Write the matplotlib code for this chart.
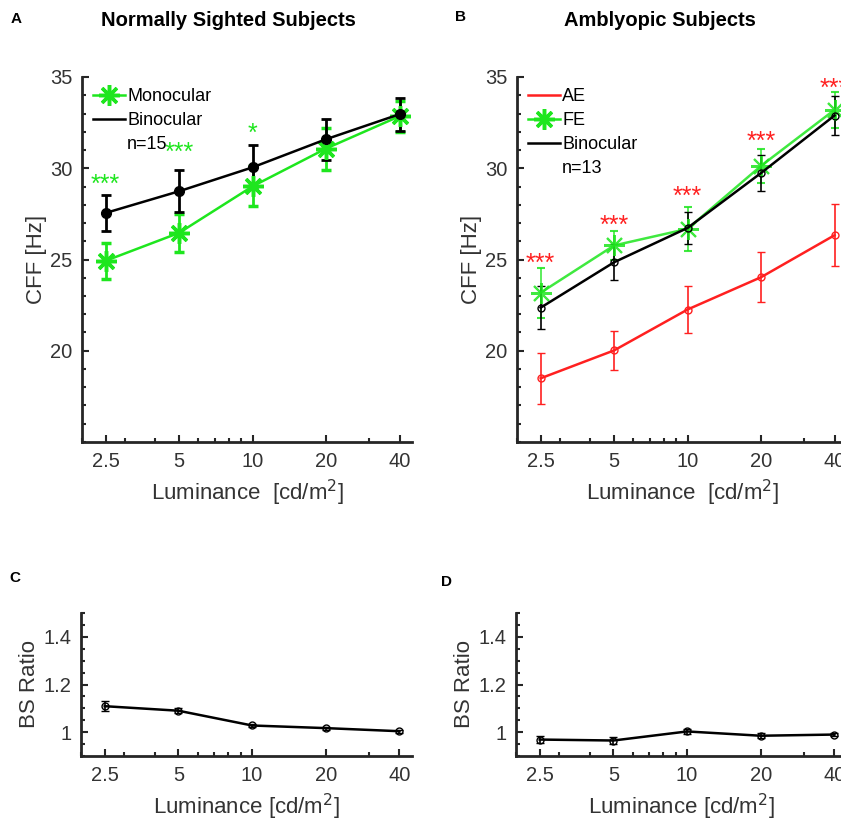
import matplotlib
matplotlib.use("Agg")
import matplotlib.pyplot as plt
from matplotlib.lines import Line2D
from matplotlib.ticker import LogLocator, MultipleLocator, FixedLocator, NullFormatter

plt.rcParams["font.family"] = ["Liberation Sans", "DejaVu Sans"]

# luminance levels [cd/m2]
luminance = [2.5, 5, 10, 20, 40]
lum_labels = ["2.5", "5", "10", "20", "40"]

# Panel A - normally sighted subjects (n=15)
a_bino = [27.55, 28.74, 30.05, 31.59, 32.96]
a_bino_err = [1.0, 1.15, 1.2, 1.13, 0.9]
a_mono = [24.93, 26.46, 29.01, 31.08, 32.85]
a_mono_err = [1.0, 1.06, 1.1, 1.15, 0.85]
a_sig = ["***", "***", "*", "", ""]
a_sig_y = [29.1, 30.85, 31.9, 0, 0]

# Panel B - amblyopic subjects (n=13)
b_ae = [18.49, 20.02, 22.26, 24.03, 26.33]
b_ae_err = [1.4, 1.07, 1.27, 1.38, 1.7]
b_fe = [23.18, 25.77, 26.68, 30.13, 33.2]
b_fe_err = [1.37, 0.8, 1.2, 0.95, 1.0]
b_bino = [22.36, 24.85, 26.73, 29.74, 32.89]
b_bino_err = [1.17, 1.0, 0.86, 0.97, 1.05]
b_sig = ["***", "***", "***", "***", "***"]
b_sig_y = [24.75, 26.85, 28.45, 31.45, 34.35]

# Panels C/D - binocular summation ratio
c_ratio = [1.109, 1.09, 1.028, 1.017, 1.004]
c_ratio_err = [0.02, 0.01, 0.006, 0.006, 0.006]
d_ratio = [0.969, 0.965, 1.003, 0.985, 0.99]
d_ratio_err = [0.013, 0.013, 0.012, 0.01, 0.008]

GREEN = "#1ee61e"
RED = "#ff2020"
AXC = "#262626"
STAR = (8, 2, 0)

W, H = 841, 823
fig = plt.figure(figsize=(W / 100, H / 100), dpi=100)


def px_axes(left, top, right, bottom):
    return fig.add_axes([left / W, 1 - bottom / H, (right - left) / W, (bottom - top) / H])


def style_axes(ax, ylim, ymajor, yminor, xlabel, ylabel):
    ax.set_xscale("log")
    ax.set_xlim(2, 45)
    ax.xaxis.set_major_locator(FixedLocator(luminance))
    ax.set_xticklabels(lum_labels)
    ax.xaxis.set_minor_locator(LogLocator(base=10, subs=range(2, 10)))
    ax.xaxis.set_minor_formatter(NullFormatter())
    ax.set_ylim(*ylim)
    ax.yaxis.set_major_locator(FixedLocator(ymajor))
    ax.set_yticklabels(["%g" % v for v in ymajor])
    ax.yaxis.set_minor_locator(MultipleLocator(yminor))
    for s in ["top", "right"]:
        ax.spines[s].set_visible(False)
    for s in ["left", "bottom"]:
        ax.spines[s].set_linewidth(2.0)
        ax.spines[s].set_color(AXC)
    ax.tick_params(which="both", direction="in", colors=AXC, width=1.5, labelsize=14.5,
                   labelcolor="#333333")
    ax.tick_params(which="major", length=5, pad=7)
    ax.tick_params(which="minor", length=3)
    ax.set_xlabel(xlabel, fontsize=16, color="#333333", labelpad=5)
    ax.set_ylabel(ylabel, fontsize=16, color="#333333", labelpad=2)


xlab_wide = "Luminance  [cd/m$^2$]"
xlab = "Luminance [cd/m$^2$]"

# ---- Panel A
axA = px_axes(82, 77, 412, 442)
axA.errorbar(luminance, a_mono, yerr=a_mono_err, color=GREEN, lw=1.8, elinewidth=2,
             capsize=3.5, capthick=2, marker=STAR, ms=15, mew=2.5)
axA.errorbar(luminance, a_bino, yerr=a_bino_err, color="black", lw=1.8, elinewidth=2,
             capsize=3.5, capthick=2, marker="o", ms=7)
for x, s, y in zip(luminance, a_sig, a_sig_y):
    if s:
        axA.text(x, y, s, color=GREEN, fontsize=18, ha="center", va="center")
style_axes(axA, (15, 35), [20, 25, 30, 35], 1, xlab_wide, "CFF [Hz]")
handlesA = [
    Line2D([], [], color=GREEN, lw=1.8, marker=STAR, ms=15, mew=2.5),
    Line2D([], [], color="black", lw=1.8),
    Line2D([], [], color="none"),
]
axA.legend(handlesA, ["Monocular", "Binocular", "n=15"], loc="upper left", frameon=False,
           fontsize=13, handlelength=1.8, handletextpad=0.1, borderaxespad=0.2,
           labelspacing=0.4, bbox_to_anchor=(0.0, 1.0))

# ---- Panel B
axB = px_axes(517, 77, 847, 442)
axB.errorbar(luminance, b_ae, yerr=b_ae_err, color=RED, lw=1.8, elinewidth=1.2,
             capsize=3, capthick=1.2, marker="o", ms=5, mfc="none", mew=1)
axB.errorbar(luminance, b_fe, yerr=b_fe_err, color=GREEN, lw=1.8, elinewidth=1.2,
             capsize=3, capthick=1.2, marker=STAR, ms=15, mew=1.5, alpha=0.85)
axB.errorbar(luminance, b_bino, yerr=b_bino_err, color="black", lw=1.8, elinewidth=1.2,
             capsize=3, capthick=1.2, marker="o", ms=5, mfc="none", mew=1)
for x, s, y in zip(luminance, b_sig, b_sig_y):
    axB.text(x, y, s, color=RED, fontsize=18, ha="center", va="center", clip_on=False)
style_axes(axB, (15, 35), [20, 25, 30, 35], 1, xlab_wide, "CFF [Hz]")
handlesB = [
    Line2D([], [], color=RED, lw=1.8),
    Line2D([], [], color=GREEN, lw=1.8, marker=STAR, ms=15, mew=2.5),
    Line2D([], [], color="black", lw=1.8),
    Line2D([], [], color="none"),
]
axB.legend(handlesB, ["AE", "FE", "Binocular", "n=13"], loc="upper left", frameon=False,
           fontsize=13, handlelength=1.8, handletextpad=0.1, borderaxespad=0.2,
           labelspacing=0.4, bbox_to_anchor=(0.0, 1.0))

# ---- Panels C and D
axC = px_axes(81, 613, 412, 756)
axC.errorbar(luminance, c_ratio, yerr=c_ratio_err, color="black", lw=1.8, elinewidth=1.2,
             capsize=3, capthick=1.2, marker="o", ms=5, mfc="none", mew=1)
style_axes(axC, (0.9, 1.5), [1, 1.2, 1.4], 0.05, xlab, "BS Ratio")

axD = px_axes(516, 613, 847, 756)
axD.errorbar(luminance, d_ratio, yerr=d_ratio_err, color="black", lw=1.8, elinewidth=1.2,
             capsize=3, capthick=1.2, marker="o", ms=5, mfc="none", mew=1)
style_axes(axD, (0.9, 1.5), [1, 1.2, 1.4], 0.05, xlab, "BS Ratio")

# titles and panel letters
fig.text(228 / W, 1 - 20 / H, "Normally Sighted Subjects", fontsize=14.5, fontweight="bold",
         ha="center", va="center")
fig.text(660 / W, 1 - 20 / H, "Amblyopic Subjects", fontsize=14.5, fontweight="bold",
         ha="center", va="center")
for lbl, x, y in [("A", 16, 19), ("B", 461, 17), ("C", 15, 578), ("D", 446, 582)]:
    fig.text(x / W, 1 - y / H, lbl, fontsize=11, fontweight="bold", ha="center", va="center")

fig.savefig("out.png", dpi=100)
